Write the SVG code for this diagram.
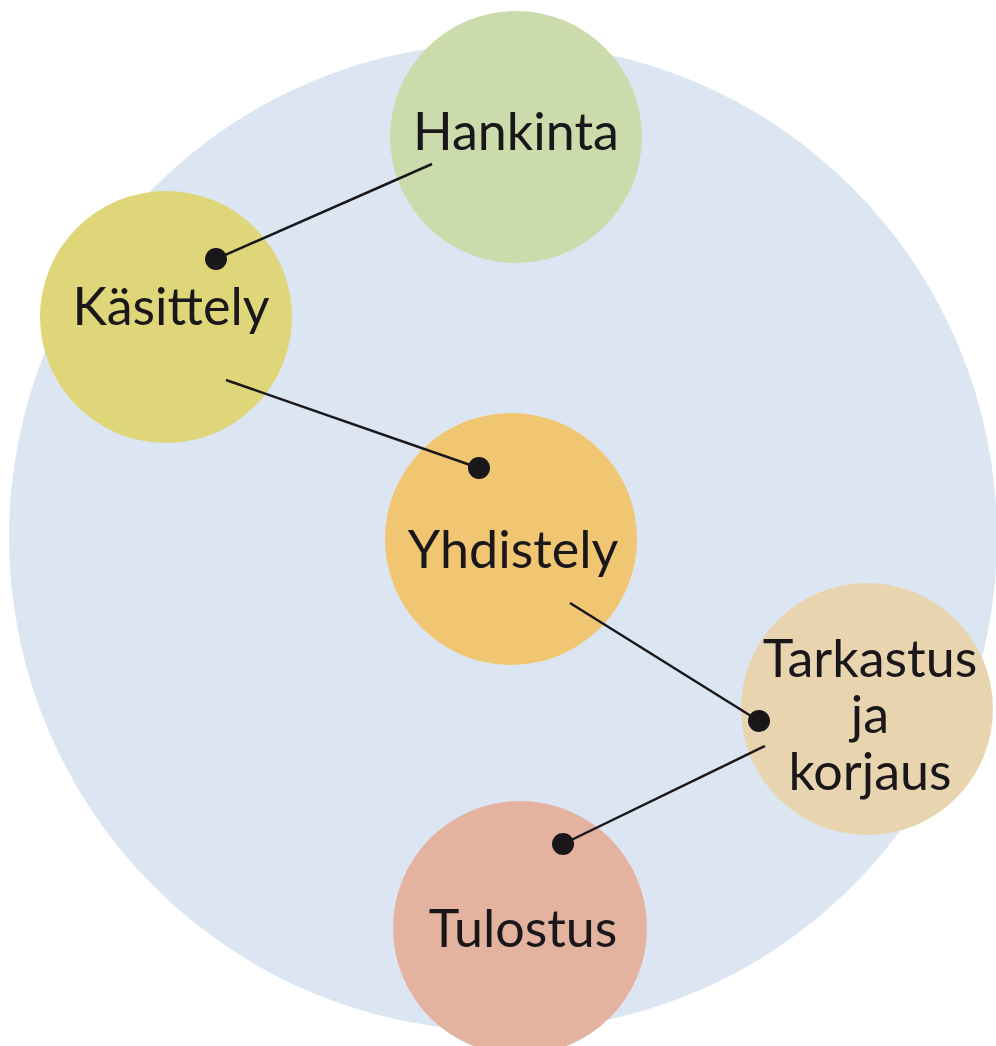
<svg xmlns="http://www.w3.org/2000/svg" width="996" height="1046" viewBox="0 0 996 1046">
<style>
.lbl{font-family:Lato,"Open Sans","Liberation Sans",sans-serif;font-size:52px;fill:#1a171b;text-anchor:middle}
.conn line{stroke:#1a171b;stroke-width:2.5}
.conn circle{fill:#1a171b}
</style>
<rect width="996" height="1046" fill="#ffffff"/>
<circle id="background" cx="503" cy="537" r="494" fill="#dce6f2"/>
<g id="hankinta"><circle cx="516" cy="137" r="126" fill="#cbdbab"/><text class="lbl" x="516" y="150">Hankinta</text></g>
<g id="kasittely"><circle cx="166" cy="317" r="126" fill="#ded678"/><text class="lbl" x="171" y="325">Käsittely</text></g>
<g id="yhdistely"><circle cx="511" cy="539" r="126" fill="#f1c673"/><text class="lbl" x="513" y="568">Yhdistely</text></g>
<g id="tarkastus"><circle cx="867" cy="709" r="126" fill="#e8d5b0"/><text class="lbl"><tspan x="870" y="677">Tarkastus</tspan><tspan x="870" y="733">ja</tspan><tspan x="870" y="790">korjaus</tspan></text></g>
<g id="tulostus"><circle cx="520" cy="928" r="127" fill="#e3b3a0"/><text class="lbl" x="523" y="947">Tulostus</text></g>
<g id="connectors" class="conn">
<line x1="432" y1="164" x2="216" y2="259"/><circle cx="216" cy="259" r="11"/>
<line x1="226" y1="380" x2="479" y2="468"/><circle cx="479" cy="468" r="11"/>
<line x1="570" y1="603" x2="759" y2="721"/><circle cx="759" cy="721" r="11"/>
<line x1="765" y1="746" x2="563" y2="844"/><circle cx="563" cy="844" r="11"/>
</g>
</svg>
